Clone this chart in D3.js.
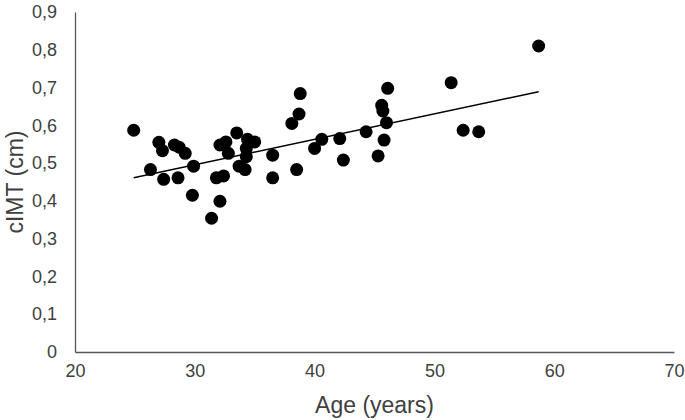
<!DOCTYPE html>
<html>
<head>
<meta charset="utf-8">
<script src="https://cdn.jsdelivr.net/npm/d3@7"></script>
<style>
  body { margin: 0; background: #fff; }
  text { font-family: "Liberation Sans", Arial, sans-serif; }
</style>
</head>
<body>
<script>
// data
var ages = [24.9, 27.0, 27.3, 28.3, 28.7, 29.2, 26.3, 27.4, 28.6, 29.9,
    29.8, 31.4, 32.1, 31.8, 32.4, 33.5, 32.1, 32.6, 32.8, 34.4,
    35.0, 34.3, 34.3, 33.7, 34.2, 36.5, 36.5, 38.1, 38.7, 38.8,
    38.5, 40.0, 40.6, 42.1, 42.4, 44.3, 45.3, 45.6, 45.7, 46.1,
    46.0, 45.8, 51.4, 52.4, 53.7, 58.7];
var cimt = [0.587, 0.555, 0.533, 0.548, 0.542, 0.526, 0.483, 0.457, 0.461, 0.492,
    0.415, 0.354, 0.399, 0.461, 0.466, 0.580, 0.548, 0.556, 0.526, 0.563,
    0.556, 0.539, 0.517, 0.492, 0.483, 0.521, 0.461, 0.605, 0.630, 0.684,
    0.483, 0.539, 0.563, 0.565, 0.508, 0.583, 0.519, 0.653, 0.638, 0.698,
    0.607, 0.561, 0.713, 0.587, 0.583, 0.810];
// linear trend line end points
var trendAge = [24.9, 58.7];
var trendCimt = [0.461, 0.689];
var xTicks = [20, 30, 40, 50, 60, 70];
var yTicks = [0, 0.1, 0.2, 0.3, 0.4, 0.5, 0.6, 0.7, 0.8, 0.9];

var W = 685, H = 420;
var margin = { top: 12, right: 11, bottom: 68, left: 75 },
    width = W - margin.left - margin.right,
    height = H - margin.top - margin.bottom;

var svg = d3.select("body").append("svg")
    .attr("width", W)
    .attr("height", H);
var g = svg.append("g")
    .attr("transform", "translate(" + margin.left + "," + margin.top + ")");

var x = d3.scaleLinear().domain([20, 70]).range([0, width]);
var y = d3.scaleLinear().domain([0, 0.9]).range([height, 0]);

var axisColor = "#595959";

// x axis
var xAxis = g.append("g")
    .attr("transform", "translate(0," + height + ")")
    .call(d3.axisBottom(x).tickValues(xTicks).tickSize(0).tickPadding(12)
        .tickFormat(d3.format("d")));
xAxis.select(".domain").attr("stroke", axisColor).attr("stroke-width", 1.3);
xAxis.selectAll("text").attr("fill", "#404040").style("font-size", "18px");

// y axis
var yAxis = g.append("g")
    .call(d3.axisLeft(y).tickValues(yTicks).tickSize(0).tickPadding(18)
        .tickFormat(function (d) { return d === 0 ? "0" : d3.format(".1f")(d).replace(".", ","); }));
yAxis.select(".domain").attr("stroke", axisColor).attr("stroke-width", 1.3);
yAxis.selectAll("text").attr("fill", "#404040").style("font-size", "18px");

// trend line
g.append("line")
    .attr("x1", x(trendAge[0])).attr("y1", y(trendCimt[0]))
    .attr("x2", x(trendAge[1])).attr("y2", y(trendCimt[1]))
    .attr("stroke", "#000")
    .attr("stroke-width", 1.5);

// points
g.selectAll(".dot")
    .data(ages)
    .enter()
    .append("circle")
    .attr("class", "dot")
    .attr("cx", function (d) { return x(d); })
    .attr("cy", function (d, i) { return y(cimt[i]); })
    .attr("r", 6.5)
    .attr("fill", "#000");

// axis titles
svg.append("text")
    .attr("x", margin.left + x(45))
    .attr("y", 413)
    .attr("text-anchor", "middle")
    .attr("fill", "#404040")
    .style("font-size", "23px")
    .text("Age (years)");

svg.append("text")
    .attr("transform", "translate(23," + (margin.top + y(0.45)) + ") rotate(-90)")
    .attr("text-anchor", "middle")
    .attr("fill", "#404040")
    .style("font-size", "23px")
    .text("cIMT (cm)");
</script>
</body>
</html>
